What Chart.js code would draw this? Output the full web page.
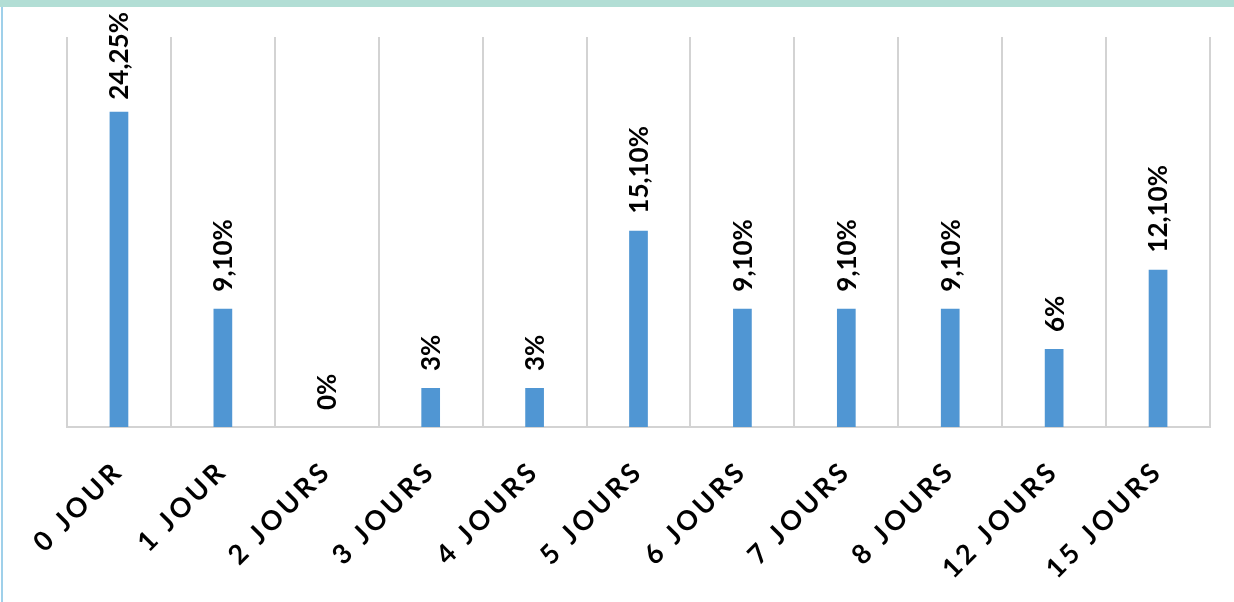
<!DOCTYPE html>
<html>
<head>
<meta charset="utf-8">
<script src="https://cdn.jsdelivr.net/npm/chart.js@4.4.1/dist/chart.umd.min.js"></script>
<style>
    html, body { margin: 0; padding: 0; background: #fff; }
    #wrap { position: relative; width: 1234px; height: 602px; overflow: hidden; }
    #bande { position: absolute; left: 0; top: 0; width: 1234px; height: 7px; background: #b2ded5; }
    #bord { position: absolute; left: 1px; top: 7px; width: 2px; height: 595px; background: #9fd0ea; }
    canvas { position: absolute; left: 0; top: 0; }
</style>
</head>
<body>
<div id="wrap">
    <canvas id="delaiChart" width="1234" height="602"></canvas>
    <div id="bande"></div>
    <div id="bord"></div>
</div>
<script>
const jours = ["0 JOUR", "1 JOUR", "2 JOURS", "3 JOURS", "4 JOURS", "5 JOURS", "6 JOURS", "7 JOURS", "8 JOURS", "12 JOURS", "15 JOURS"];
const valeurs = [24.25, 9.1, 0, 3, 3, 15.1, 9.1, 9.1, 9.1, 6, 12.1];
const etiquettes = ["24,25%", "9,10%", "0%", "3%", "3%", "15,10%", "9,10%", "9,10%", "9,10%", "6%", "12,10%"];

// espacement des lettres pour les libelles de l'axe x
const espacementPlugin = {
    id: "espacement",
    beforeUpdate(chart) { chart.ctx.letterSpacing = "3.5px"; },
    beforeDraw(chart) { chart.ctx.letterSpacing = "3.5px"; }
};

// etiquettes verticales au-dessus des barres
const etiquettesPlugin = {
    id: "etiquettes",
    afterDatasetsDraw(chart) {
        const ctx = chart.ctx;
        const meta = chart.getDatasetMeta(0);
        ctx.save();
        ctx.letterSpacing = "0px";
        ctx.font = "bold 26px Lato";
        ctx.fillStyle = "#000";
        ctx.textAlign = "left";
        ctx.textBaseline = "middle";
        meta.data.forEach((bar, i) => {
            const txt = etiquettes[i];
            const w = ctx.measureText(txt).width;
            const y = Math.max(bar.y - 17, 12 + w);
            ctx.save();
            ctx.translate(bar.x + 1, y);
            ctx.rotate(-Math.PI / 2);
            ctx.fillText(txt, 0, 0);
            ctx.restore();
        });
        ctx.restore();
    }
};

const ctx = document.getElementById("delaiChart").getContext("2d");
new Chart(ctx, {
    type: "bar",
    data: {
        labels: jours,
        datasets: [{
            data: valeurs,
            backgroundColor: "#5096d3",
            barPercentage: 0.18,
            categoryPercentage: 1
        }]
    },
    options: {
        responsive: false,
        animation: false,
        layout: { padding: { left: 67, right: 24, top: 37, bottom: 0 } },
        plugins: { legend: { display: false }, tooltip: { enabled: false } },
        scales: {
            x: {
                offset: true,
                grid: { offset: true, color: "#d3d3d3", lineWidth: 2, drawTicks: false },
                border: { color: "#d3d3d3", width: 2 },
                ticks: {
                    minRotation: 45,
                    maxRotation: 45,
                    padding: 28,
                    color: "#000",
                    font: { family: "Lato", weight: "bold", size: 27 }
                },
                afterFit: function (scale) {
                    scale.height = 175;
                    scale.paddingLeft = 0;
                    scale.paddingRight = 0;
                }
            },
            y: { display: false, min: 0, max: 30 }
        }
    },
    plugins: [espacementPlugin, etiquettesPlugin]
});
</script>
</body>
</html>
